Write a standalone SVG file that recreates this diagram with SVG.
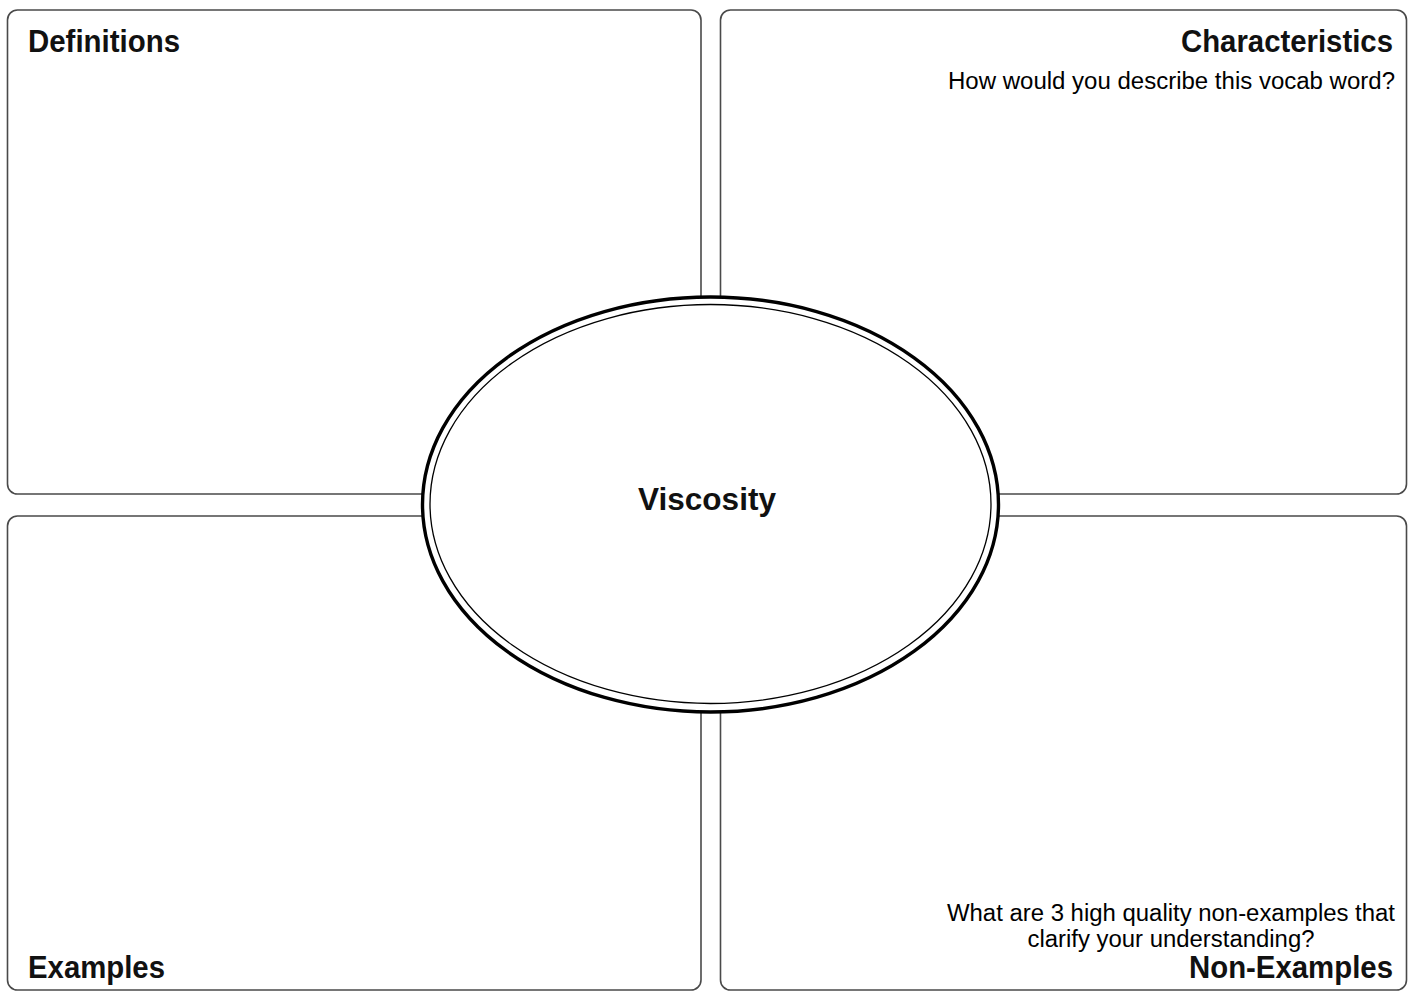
<svg xmlns="http://www.w3.org/2000/svg" width="1408" height="992" viewBox="0 0 1408 992">
<style>
.box{fill:#fff;stroke:#4a4a4a;stroke-width:1.6}
.h{font-family:"Liberation Sans",Arial,sans-serif;font-weight:bold;font-size:31px;fill:#111}
.t{font-family:"Liberation Sans",Arial,sans-serif;font-size:23px;fill:#000}
</style>
<rect width="1408" height="992" fill="#fff"/>
<g id="definitions">
<rect class="box" x="7.5" y="10" width="693.5" height="484" rx="10"/>
<text class="h" x="28" y="52" textLength="152" lengthAdjust="spacingAndGlyphs">Definitions</text>
</g>
<g id="characteristics">
<rect class="box" x="720.5" y="10" width="686" height="484" rx="10"/>
<text class="h" x="1393" y="52" text-anchor="end" textLength="212" lengthAdjust="spacingAndGlyphs">Characteristics</text>
<text class="t" x="1395" y="89" text-anchor="end" textLength="447" lengthAdjust="spacingAndGlyphs">How would you describe this vocab word?</text>
</g>
<g id="examples">
<rect class="box" x="7.5" y="516" width="693.5" height="474" rx="10"/>
<text class="h" x="28" y="978" textLength="137" lengthAdjust="spacingAndGlyphs">Examples</text>
</g>
<g id="nonexamples">
<rect class="box" x="720.5" y="516" width="686" height="474" rx="10"/>
<text class="t" x="1171" y="921" text-anchor="middle" textLength="448" lengthAdjust="spacingAndGlyphs">What are 3 high quality non-examples that</text>
<text class="t" x="1171" y="947" text-anchor="middle" textLength="287" lengthAdjust="spacingAndGlyphs">clarify your understanding?</text>
<text class="h" x="1393" y="978" text-anchor="end" textLength="204" lengthAdjust="spacingAndGlyphs">Non-Examples</text>
</g>
<g id="center">
<ellipse cx="710.5" cy="504.5" rx="288" ry="207.5" fill="#fff" stroke="#000" stroke-width="3.4"/>
<ellipse cx="710.5" cy="504" rx="280.5" ry="199.5" fill="none" stroke="#000" stroke-width="1.3"/>
<text class="h" x="707" y="510" text-anchor="middle" textLength="138" lengthAdjust="spacingAndGlyphs">Viscosity</text>
</g>
<g id="connectors"></g>
</svg>
